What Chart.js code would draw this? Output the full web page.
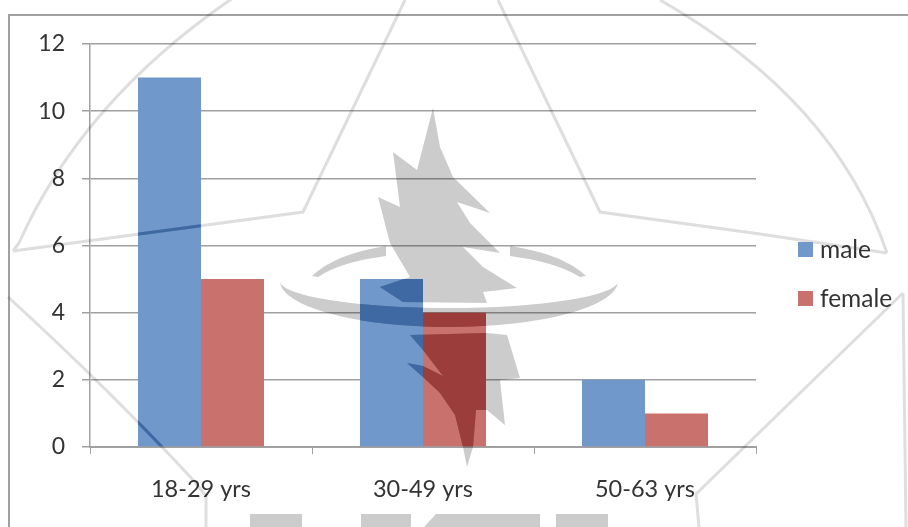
<!DOCTYPE html>
<html>
<head>
<meta charset="utf-8">
<title>Age groups by gender</title>
<script src="https://cdn.jsdelivr.net/npm/chart.js@4"></script>
<style>
    html, body { margin: 0; padding: 0; background: #fff; }
    canvas { display: block; }
</style>
</head>
<body>
<canvas id="ageChart" width="908" height="527"></canvas>
<script>
const categories = ['18-29 yrs', '30-49 yrs', '50-63 yrs'];
const maleValues = [11, 5, 2];
const femaleValues = [5, 4, 1];
const maleLabel = 'male';
const femaleLabel = 'female';

const maleColor = '#7098ca';
const femaleColor = '#c9716d';
const lineColor = '#a0a0a0';
const textColor = '#333333';
const fontFamily = 'Lato, Carlito, sans-serif';

// Emblem printed behind the chart: ring, star, flame and the blocks along the bottom
function traceEmblem(ctx) {
    const poly = (pts) => {
        ctx.moveTo(pts[0][0], pts[0][1]);
        pts.slice(1).forEach(p => ctx.lineTo(p[0], p[1]));
        ctx.closePath();
    };

    // flame, upper part
    poly([[433, 108], [440, 147], [453, 177], [490, 213], [457, 202], [470, 223], [500, 253], [463, 247],
        [483, 267], [517, 288], [483, 292], [487, 303], [403, 302], [380, 287], [410, 277], [390, 243],
        [378, 197], [400, 207], [393, 152], [417, 170]]);
    // flame, lower part
    poly([[487, 333], [507, 335], [520, 378], [500, 380], [505, 425], [487, 410], [476, 410], [473, 447],
        [467, 467], [463, 447], [455, 415], [440, 393], [423, 377], [407, 363], [423, 366], [443, 376],
        [423, 350], [410, 335]]);

    // crescents of the ring around the flame
    ctx.moveTo(280, 281);
    ctx.ellipse(449, 281, 169, 46, 0, Math.PI, 0, true);
    ctx.ellipse(449, 281, 169, 27, 0, 0, Math.PI, false);
    ctx.closePath();
    ctx.moveTo(312, 276);
    ctx.quadraticCurveTo(335, 254, 386, 246);
    ctx.lineTo(386, 256);
    ctx.quadraticCurveTo(340, 262, 318, 277);
    ctx.closePath();
    ctx.moveTo(586, 276);
    ctx.quadraticCurveTo(563, 254, 510, 246);
    ctx.lineTo(510, 256);
    ctx.quadraticCurveTo(556, 262, 580, 277);
    ctx.closePath();

    // blocks along the bottom edge
    ctx.rect(250, 514, 52, 13);
    ctx.rect(361, 514, 50, 13);
    poly([[424, 527], [436, 514], [540, 514], [540, 527]]);
    ctx.rect(556, 514, 52, 13);
}

function strokeEmblem(ctx) {
    ctx.beginPath();
    // outer ring, broken where the star crosses it
    ctx.moveTo(13, 251);
    ctx.lineTo(19, 243);
    ctx.quadraticCurveTo(85, 95, 245, -10);
    ctx.moveTo(660, 0);
    ctx.quadraticCurveTo(835, 100, 887, 253);
    // star arms
    ctx.moveTo(405, 0);
    ctx.lineTo(303, 212);
    ctx.lineTo(13, 251);
    ctx.moveTo(498, 0);
    ctx.lineTo(600, 212);
    ctx.lineTo(760, 234);
    ctx.lineTo(887, 253);
    // lower arcs
    ctx.moveTo(8, 297);
    ctx.quadraticCurveTo(110, 390, 195, 482);
    ctx.lineTo(206, 496);
    ctx.lineTo(206, 527);
    ctx.moveTo(903, 293);
    ctx.lineTo(696, 494);
    ctx.lineTo(699, 527);
    ctx.moveTo(903, 293);
    ctx.lineTo(906, 527);
    ctx.stroke();
}

const backdropPlugin = {
    id: 'backdrop',
    beforeDraw(chart) {
        const ctx = chart.ctx;
        ctx.save();
        ctx.fillStyle = '#ffffff';
        ctx.fillRect(0, 0, chart.width, chart.height);
        // chart frame, only left and top are visible
        ctx.strokeStyle = lineColor;
        ctx.lineWidth = 2;
        ctx.beginPath();
        ctx.moveTo(9, chart.height);
        ctx.lineTo(9, 15);
        ctx.lineTo(chart.width, 15);
        ctx.stroke();
        ctx.restore();
    },
    afterDatasetsDraw(chart) {
        const ctx = chart.ctx;
        ctx.save();
        ctx.globalCompositeOperation = 'multiply';
        ctx.fillStyle = '#cccccc';
        ctx.beginPath();
        traceEmblem(ctx);
        ctx.fill();
        ctx.strokeStyle = '#dedede';
        ctx.lineWidth = 3;
        strokeEmblem(ctx);
        ctx.restore();

        // the emblem shows darker through the bars
        const darkColors = ['#3f69a2', '#9b3e3b'];
        chart.data.datasets.forEach((ds, i) => {
            chart.getDatasetMeta(i).data.forEach(bar => {
                ctx.save();
                ctx.beginPath();
                ctx.rect(bar.x - bar.width / 2, bar.y, bar.width, bar.base - bar.y);
                ctx.clip();
                ctx.fillStyle = darkColors[i];
                ctx.beginPath();
                traceEmblem(ctx);
                ctx.fill();
                ctx.strokeStyle = darkColors[i];
                ctx.lineWidth = 3;
                strokeEmblem(ctx);
                ctx.restore();
            });
        });
    }
};

// Legend drawn by hand so the swatch sits close to its text
const sideLegendPlugin = {
    id: 'sideLegend',
    afterDraw(chart) {
        const ctx = chart.ctx;
        ctx.save();
        ctx.font = '24.5px ' + fontFamily;
        ctx.textBaseline = 'middle';
        chart.data.datasets.forEach((ds, i) => {
            const top = 242 + i * 49;
            ctx.fillStyle = ds.backgroundColor;
            ctx.fillRect(798, top, 15, 15);
            ctx.fillStyle = textColor;
            ctx.fillText(ds.label, 820, top + 8);
        });
        ctx.restore();
    }
};

new Chart(document.getElementById('ageChart').getContext('2d'), {
    type: 'bar',
    data: {
        labels: categories,
        datasets: [{
            label: maleLabel,
            data: maleValues,
            backgroundColor: maleColor,
            borderWidth: 0
        }, {
            label: femaleLabel,
            data: femaleValues,
            backgroundColor: femaleColor,
            borderWidth: 0
        }]
    },
    plugins: [backdropPlugin, sideLegendPlugin],
    options: {
        responsive: false,
        animation: false,
        layout: { padding: { left: 0, top: 44, right: 152, bottom: 0 } },
        datasets: { bar: { barPercentage: 1, categoryPercentage: 0.5676 } },
        plugins: {
            legend: { display: false },
            tooltip: { enabled: false }
        },
        scales: {
            x: {
                afterFit: (scale) => { scale.height = 80; },
                grid: { drawOnChartArea: false, color: lineColor, tickLength: 7 },
                border: { color: lineColor, width: 2 },
                ticks: {
                    color: textColor,
                    padding: 21,
                    maxRotation: 0,
                    font: { family: fontFamily, size: 23.5 }
                }
            },
            y: {
                min: 0,
                max: 12,
                afterFit: (scale) => { scale.width = 90; },
                grid: { color: lineColor, lineWidth: 1.5, tickLength: 8 },
                border: { color: lineColor, width: 1.5 },
                ticks: {
                    stepSize: 2,
                    color: textColor,
                    padding: 17,
                    font: { family: fontFamily, size: 23 }
                }
            }
        }
    }
});
</script>
</body>
</html>
